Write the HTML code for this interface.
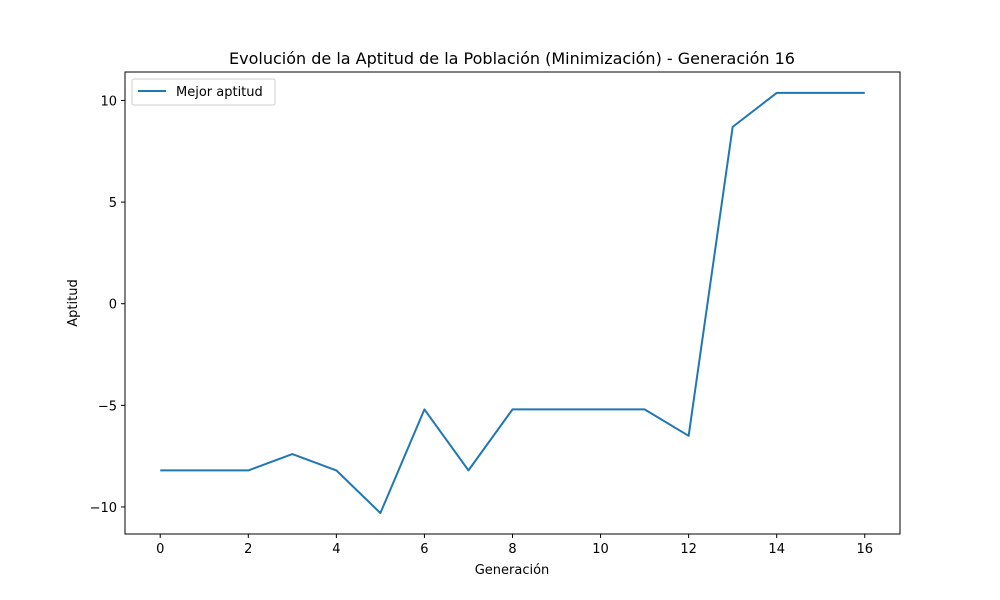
<!DOCTYPE html>
<html><head><meta charset="utf-8"><style>
body{margin:0;background:#fff;}
svg{display:block;font-family:"DejaVu Sans","Liberation Sans",sans-serif;}
</style></head><body>
<svg id="chart" width="1000" height="600">
<rect width="1000" height="600" fill="#fff"/>
<text x="512" y="64" text-anchor="middle" font-size="16">Evolución de la Aptitud de la Población (Minimización) - Generación 16</text>
<g id="axes"></g>
<text x="512" y="574" text-anchor="middle" font-size="13">Generación</text>
<text transform="translate(77,303) rotate(-90)" text-anchor="middle" font-size="13">Aptitud</text>
<g>
<rect x="132" y="79" width="143" height="26" fill="#fff" stroke="#ccc" rx="2"/>
<line x1="138" y1="91" x2="166" y2="91" stroke="#1f77b4" stroke-width="2"/>
<text x="176" y="96" font-size="13">Mejor aptitud</text>
</g>
</svg>
<script>
const generations=[0,1,2,3,4,5,6,7,8,9,10,11,12,13,14,15,16];
const bestFitness=[-8.2,-8.2,-8.2,-7.4,-8.2,-10.3,-5.2,-8.2,-5.2,-5.2,-5.2,-5.2,-6.5,8.7,10.37,10.37,10.37];
const xTicks=[0,2,4,6,8,10,12,14,16];
const yTicks=[-10,-5,0,5,10];
const yTickLabels=["\u221210","\u22125","0","5","10"];
const L=125,R=900,T=72,B=534;
const xmin=-0.8,xmax=16.8,ymin=-11.33,ymax=11.40;
const sx=v=>L+(v-xmin)/(xmax-xmin)*(R-L);
const sy=v=>B-(v-ymin)/(ymax-ymin)*(B-T);
const ns="http://www.w3.org/2000/svg";
const g=document.getElementById('axes');
function mk(t,a){const e=document.createElementNS(ns,t);for(const k in a)e.setAttribute(k,a[k]);g.appendChild(e);return e;}
let frame=mk('rect',{x:L,y:T,width:R-L,height:B-T,fill:'none',stroke:'#000','stroke-width':1});


xTicks.forEach(v=>{
 const x=sx(v);
 let t=mk('line',{x1:x,y1:B,x2:x,y2:B+4,stroke:'#000'});
 
 
 let l=mk('text',{x:x,y:B+19,'text-anchor':'middle','font-size':13});
 l.textContent=v;
 
 
});
yTicks.forEach((v,i)=>{
 const y=sy(v);
 let t=mk('line',{x1:L-4,y1:y,x2:L,y2:y,stroke:'#000'});
 
 
 let l=mk('text',{x:L-8,y:y+5,'text-anchor':'end','font-size':13});
 l.textContent=yTickLabels[i];
 
 
});
let p=mk('polyline',{points:generations.map((g,i)=>sx(g)+','+sy(bestFitness[i])).join(' '),fill:'none',stroke:'#1f77b4','stroke-width':2,'stroke-linejoin':'round'});


</script>
</body></html>
